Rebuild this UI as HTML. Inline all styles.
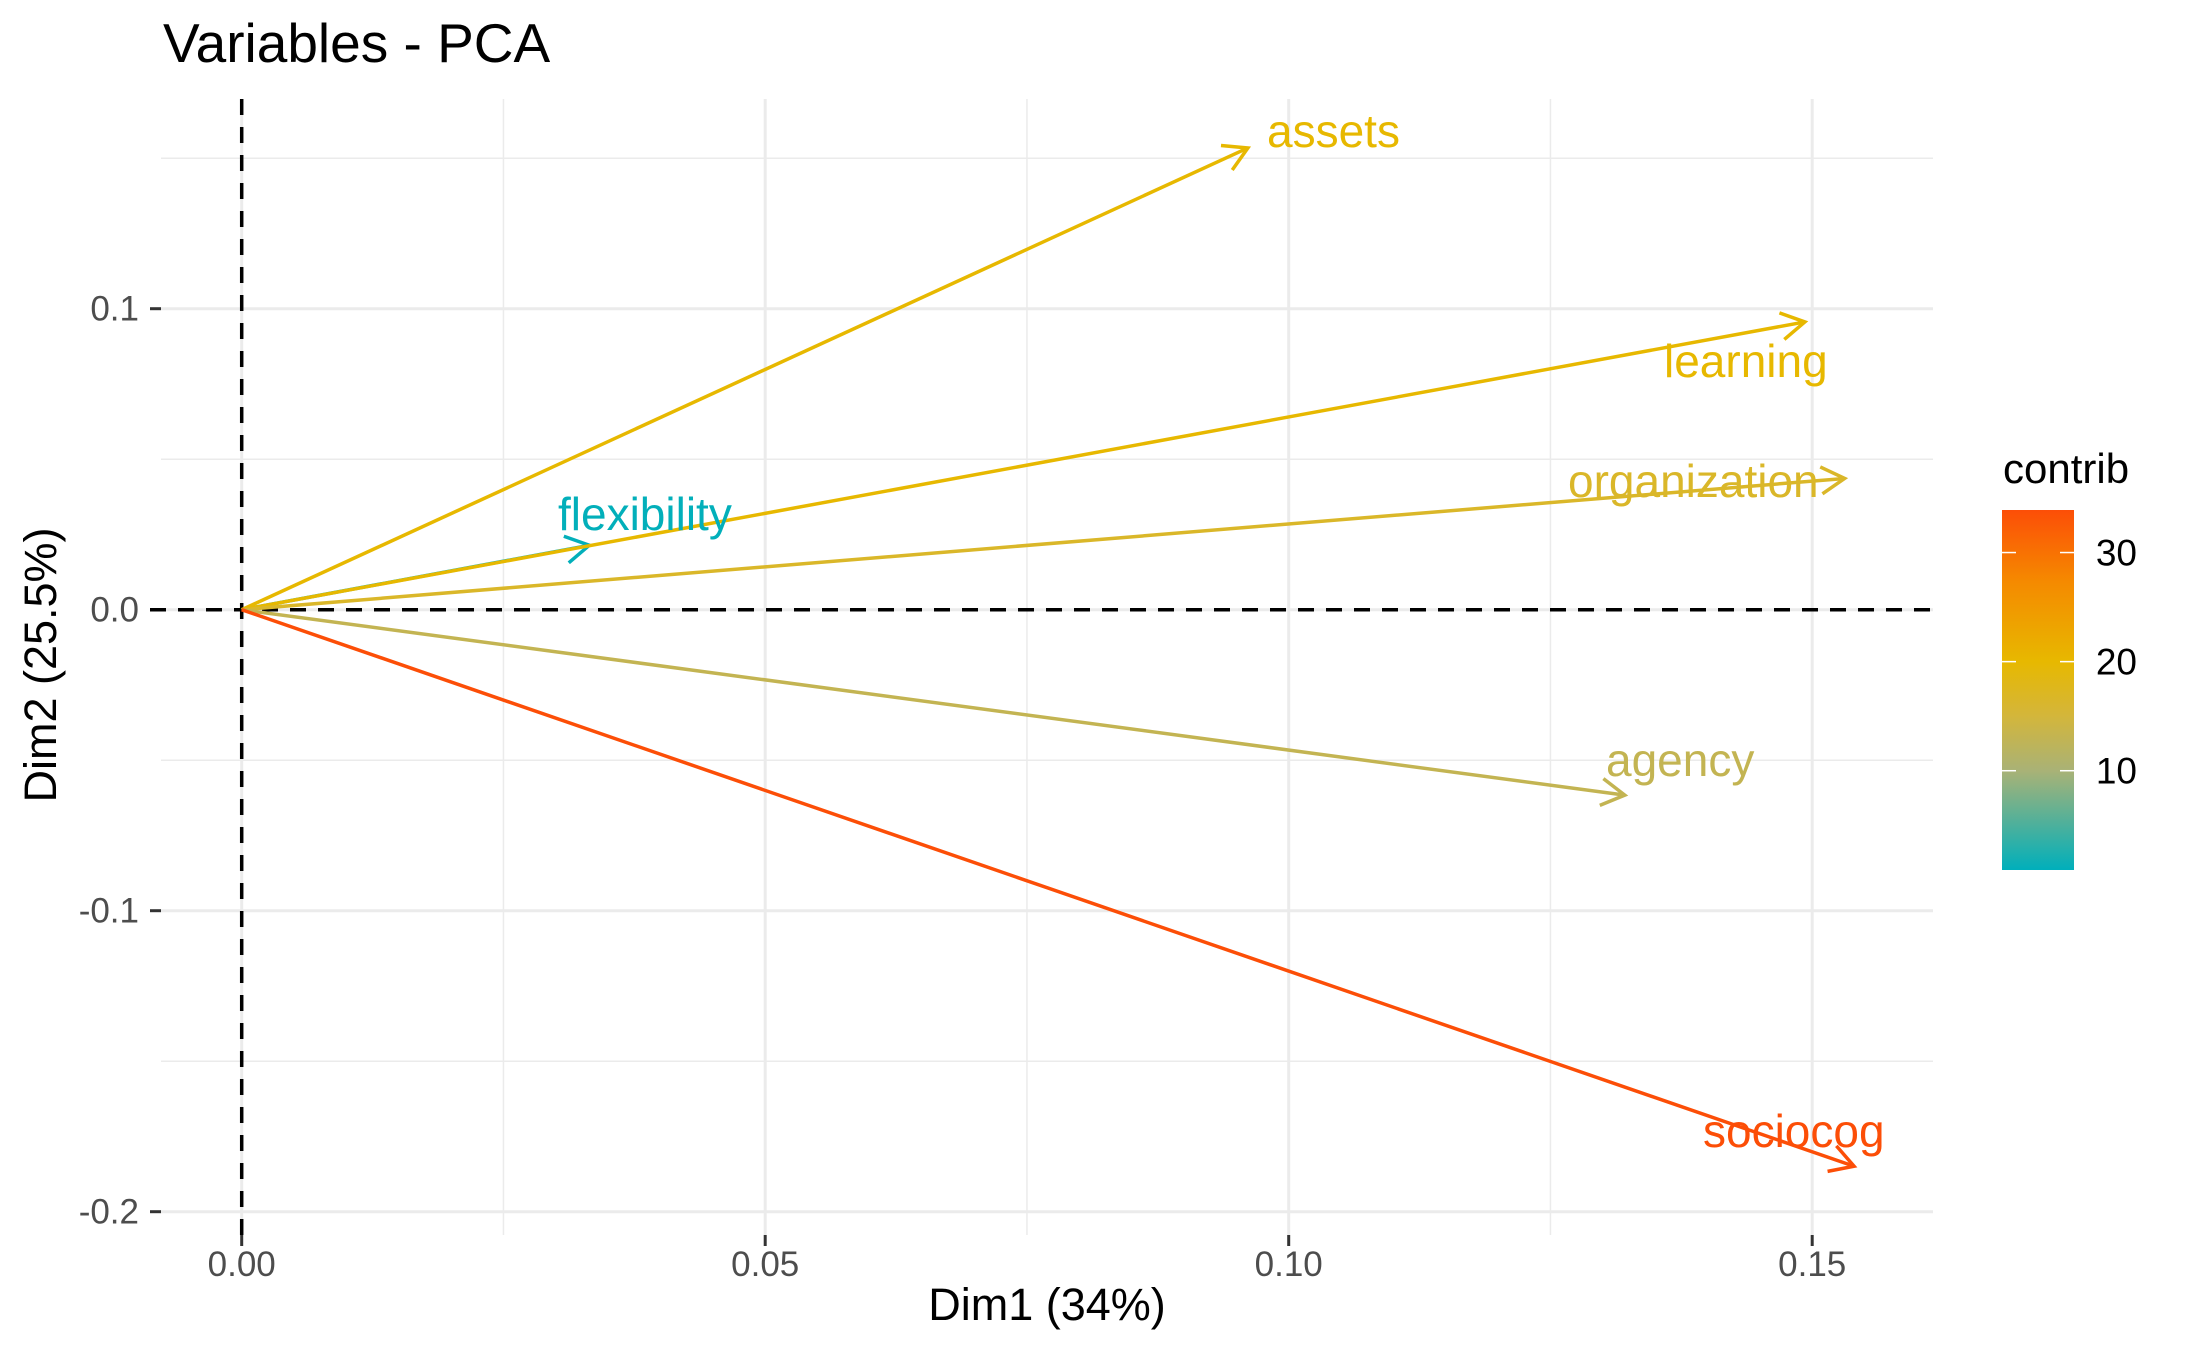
<!DOCTYPE html>
<html><head><meta charset="utf-8"><style>
html,body{margin:0;padding:0;background:#fff;}
svg{display:block;font-family:"Liberation Sans",Arial,sans-serif;}
</style></head><body>
<svg id="chart" width="2187" height="1350" viewBox="0 0 2187 1350" xmlns="http://www.w3.org/2000/svg">
<rect width="2187" height="1350" fill="#fff"/>
<text x="163" y="62" font-size="55" fill="#000">Variables - PCA</text>
<g id="grid"></g>
<g id="axes"></g>
<g id="arrows"></g>
<text x="1047" y="1320" font-size="45" text-anchor="middle" fill="#000">Dim1 (34%)</text>
<text transform="translate(56,665) rotate(-90)" font-size="45" text-anchor="middle" fill="#000">Dim2 (25.5%)</text>
<defs>
<linearGradient id="cgrad" x1="0" y1="1" x2="0" y2="0">
<stop offset="0" stop-color="#00AFBB"/>
<stop offset="0.276" stop-color="#A9B276"/>
<stop offset="0.43" stop-color="#D4B63A"/>
<stop offset="0.579" stop-color="#E7B800"/>
<stop offset="0.8" stop-color="#F58A00"/>
<stop offset="1" stop-color="#FC4E07"/>
</linearGradient>
</defs>
<g id="legend">
<text x="2003" y="483" font-size="42" fill="#000">contrib</text>
<rect x="2002" y="510" width="72" height="360" fill="url(#cgrad)"/>
</g>
</svg>
<script>
const names = ["flexibility","assets","learning","organization","agency","sociocog"];
const dim1 = [0.0332,0.0961,0.1493,0.1531,0.1321,0.154];
const dim2 = [0.0214,0.1534,0.0956,0.0436,-0.0616,-0.1849];
const contrib = [1,20,20,16.5,13,33.9];
const xTicks = [0,0.05,0.10,0.15];
const xTickLabels = ["0.00","0.05","0.10","0.15"];
const yTicks = [-0.2,-0.1,0.0,0.1];
const yTickLabels = ["-0.2","-0.1","0.0","0.1"];
const xMinor = [0.025,0.075,0.125];
const yMinor = [-0.15,-0.05,0.05,0.15];
const legendTicks = [10,20,30];
const labelPos = [[558,530],[1267,147],[1664,377],[1568,497],[1606,776],[1703,1147]];

const NS="http://www.w3.org/2000/svg";
const L=161,R=1933,T=99,B=1235;
const sx=v=>241.7+v*10470;
const sy=v=>609.7-v*3010;
function mk(tag,attrs,parent){const e=document.createElementNS(NS,tag);for(const k in attrs)e.setAttribute(k,attrs[k]);parent.appendChild(e);return e;}
const stops=[[0.9,[0,175,187]],[10,[169,178,118]],[15,[212,182,58]],[20,[231,184,0]],[27,[245,138,0]],[33.9,[252,78,7]]];
function colorFor(c){
  for(let i=0;i<stops.length-1;i++){const a=stops[i],b=stops[i+1];
    if(c<=b[0]||i===stops.length-2){const u=Math.max(0,Math.min(1,(c-a[0])/(b[0]-a[0])));
      return "rgb("+a[1].map((v,k)=>Math.round(v+(b[1][k]-v)*u)).join(",")+")";}}
}
const grid=document.getElementById('grid'),axes=document.getElementById('axes'),arrows=document.getElementById('arrows'),legend=document.getElementById('legend');
xMinor.forEach(v=>{const e=mk('line',{x1:sx(v),x2:sx(v),y1:T,y2:B,stroke:'#ebebeb','stroke-width':1.5},grid);

});
yMinor.forEach(v=>{const e=mk('line',{x1:L,x2:R,y1:sy(v),y2:sy(v),stroke:'#ebebeb','stroke-width':1.5},grid);

});
xTicks.forEach((v,i)=>{const e=mk('line',{x1:sx(v),x2:sx(v),y1:T,y2:B,stroke:'#ebebeb','stroke-width':3},grid);


const t=mk('line',{x1:sx(v),x2:sx(v),y1:B,y2:B+11,stroke:'#333','stroke-width':3},axes);


const tx=mk('text',{x:sx(v),y:1276,'font-size':35,fill:'#4d4d4d','text-anchor':'middle'},axes);tx.textContent=xTickLabels[i];

});
yTicks.forEach((v,i)=>{const e=mk('line',{x1:L,x2:R,y1:sy(v),y2:sy(v),stroke:'#ebebeb','stroke-width':3},grid);


const t=mk('line',{x1:150,x2:L,y1:sy(v),y2:sy(v),stroke:'#333','stroke-width':3},axes);


const tx=mk('text',{x:139,y:sy(v)+12,'font-size':35,fill:'#4d4d4d','text-anchor':'end'},axes);tx.textContent=yTickLabels[i];

});
const h=mk('line',{x1:150,x2:R,y1:sy(0),y2:sy(0),stroke:'#000','stroke-width':3.5,'stroke-dasharray':'16,12'},axes);


const vl=mk('line',{x1:sx(0),x2:sx(0),y1:T,y2:B+11,stroke:'#000','stroke-width':3.5,'stroke-dasharray':'16,12'},axes);


names.forEach((n,i)=>{
  const c=colorFor(contrib[i]);
  const g=mk('g',{},arrows);
  
  
  const x0=sx(0),y0=sy(0),x1=sx(dim1[i]),y1=sy(dim2[i]);
  mk('line',{x1:x0,y1:y0,x2:x1,y2:y1,stroke:c,'stroke-width':3.5},g);
  const ang=Math.atan2(y1-y0,x1-x0),len=27,sp=Math.PI/6;
  const p1=[x1-len*Math.cos(ang-sp),y1-len*Math.sin(ang-sp)],p2=[x1-len*Math.cos(ang+sp),y1-len*Math.sin(ang+sp)];
  mk('polyline',{points:p1.join(',')+' '+x1+','+y1+' '+p2.join(','),fill:'none',stroke:c,'stroke-width':3.5},g);
});
names.forEach((n,i)=>{
  const c=colorFor(contrib[i]);
  const t=mk('text',{x:labelPos[i][0],y:labelPos[i][1],'font-size':46,fill:c},arrows);t.textContent=n;
  
  
});
const ly=v=>870-(v-0.9)*(360/33);
legendTicks.forEach(v=>{
  const a=mk('line',{x1:2002,x2:2016,y1:ly(v),y2:ly(v),stroke:'#fff','stroke-width':1.5},legend);
  
  
  const b=mk('line',{x1:2060,x2:2074,y1:ly(v),y2:ly(v),stroke:'#fff','stroke-width':1.5},legend);
  
  
  const t=mk('text',{x:2137,y:ly(v)+13,'font-size':37,fill:'#000','text-anchor':'end'},legend);t.textContent=v;
  
  
});
</script>
</body></html>
